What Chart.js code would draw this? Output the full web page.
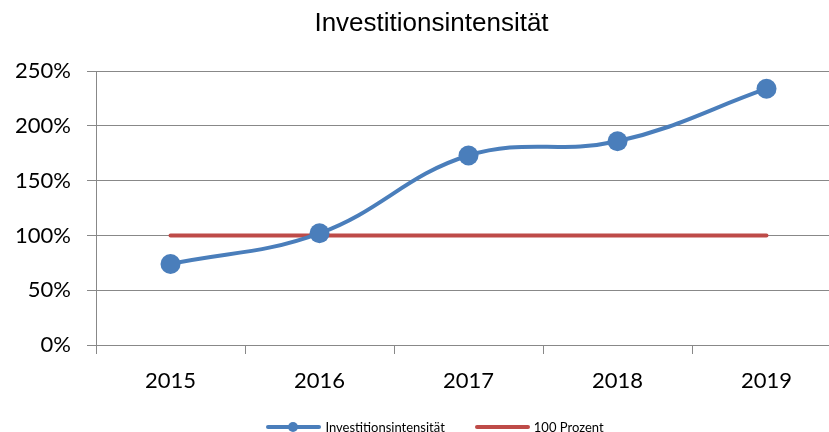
<!DOCTYPE html>
<html>
<head>
<meta charset="utf-8">
<script src="https://cdn.jsdelivr.net/npm/chart.js@4/dist/chart.umd.min.js"></script>
<style>
    html, body { margin: 0; padding: 0; background: #fff; overflow: hidden; }
    #wrap { position: relative; width: 851px; height: 432px; }
    #legend {
        position: absolute; left: 0; top: 419px; width: 870px;
        display: flex; justify-content: center; align-items: center;
        font-family: Lato, sans-serif; font-size: 13px; color: #000;
    }
    .item { display: flex; align-items: center; margin: 0 15px; }
    .mark { position: relative; width: 55px; height: 4px; margin-right: 4px; border-radius: 2px; }
    .dot { position: absolute; left: 22px; top: -3px; width: 10px; height: 10px; border-radius: 50%; }
</style>
</head>
<body>
<div id="wrap">
    <canvas id="myChart"></canvas>
    <div id="legend"></div>
</div>
<script>
    // data
    const years = ['2015', '2016', '2017', '2018', '2019'];
    const intensity = [74, 102, 173, 186, 234];
    const hundred = [100, 100, 100, 100, 100];
    const yTicks = [0, 50, 100, 150, 200, 250];

    const blue = '#4A7EBB';
    const red = '#BE4B48';
    const grid = '#888888';

    const data = {
        labels: years,
        datasets: [{
            label: 'Investitionsintensität',
            data: intensity,
            borderColor: blue,
            backgroundColor: blue,
            borderWidth: 4,
            tension: 0.4,
            pointRadius: 10,
            pointHoverRadius: 10,
            pointBackgroundColor: blue,
            pointBorderWidth: 0,
            order: 1
        }, {
            label: '100 Prozent',
            data: hundred,
            borderColor: red,
            backgroundColor: red,
            borderWidth: 4,
            borderCapStyle: 'round',
            pointRadius: 0,
            order: 2
        }]
    };

    // the plot runs past the right edge of the picture, so nudge the title
    // back to the middle of the visible page
    const titleShift = {
        id: 'titleShift',
        afterLayout: function (chart) {
            const t = chart.titleBlock;
            if (t) { t.left += 5; t.right += 5; }
        }
    };

    const config = {
        type: 'line',
        data,
        plugins: [titleShift],
        options: {
            responsive: false,
            animation: false,
            layout: { padding: { left: 12, right: 10, top: 0, bottom: 38 } },
            plugins: {
                title: {
                    display: true,
                    text: 'Investitionsintensität',
                    color: '#000',
                    font: { family: 'Liberation Sans', size: 26, weight: 'normal' },
                    padding: { top: 8, bottom: 32 }
                },
                legend: { display: false },
                tooltip: { enabled: false }
            },
            scales: {
                x: {
                    offset: true,
                    afterFit: function (scale) { scale.height = 49; },
                    grid: {
                        offset: true,
                        drawOnChartArea: false,
                        drawTicks: true,
                        tickLength: 9,
                        color: grid
                    },
                    border: { color: grid },
                    ticks: {
                        color: '#000',
                        font: { family: 'Lato', size: 22 },
                        padding: 14
                    }
                },
                y: {
                    min: 0,
                    max: 250,
                    afterBuildTicks: function (scale) {
                        scale.ticks = yTicks.map(function (v) { return { value: v }; });
                    },
                    afterFit: function (scale) { scale.width = 84; },
                    grid: { color: grid, tickLength: 9 },
                    border: { color: grid },
                    ticks: {
                        color: '#000',
                        font: { family: 'Lato', size: 22 },
                        padding: 16,
                        callback: function (v) { return v + '%'; }
                    }
                }
            }
        }
    };

    const canvas = document.getElementById('myChart');
    canvas.width = 851;
    canvas.height = 432;
    const myChart = new Chart(canvas, config);

    // legend as html, built from the datasets
    const legend = document.getElementById('legend');
    myChart.data.datasets.forEach(function (ds, i) {
        const item = document.createElement('div');
        item.className = 'item';
        const mark = document.createElement('span');
        mark.className = 'mark';
        mark.style.background = ds.borderColor;
        if (i === 0) {
            const dot = document.createElement('span');
            dot.className = 'dot';
            dot.style.background = ds.borderColor;
            mark.appendChild(dot);
        }
        const txt = document.createElement('span');
        txt.textContent = ds.label;
        item.appendChild(mark);
        item.appendChild(txt);
        legend.appendChild(item);
    });
</script>
</body>
</html>
